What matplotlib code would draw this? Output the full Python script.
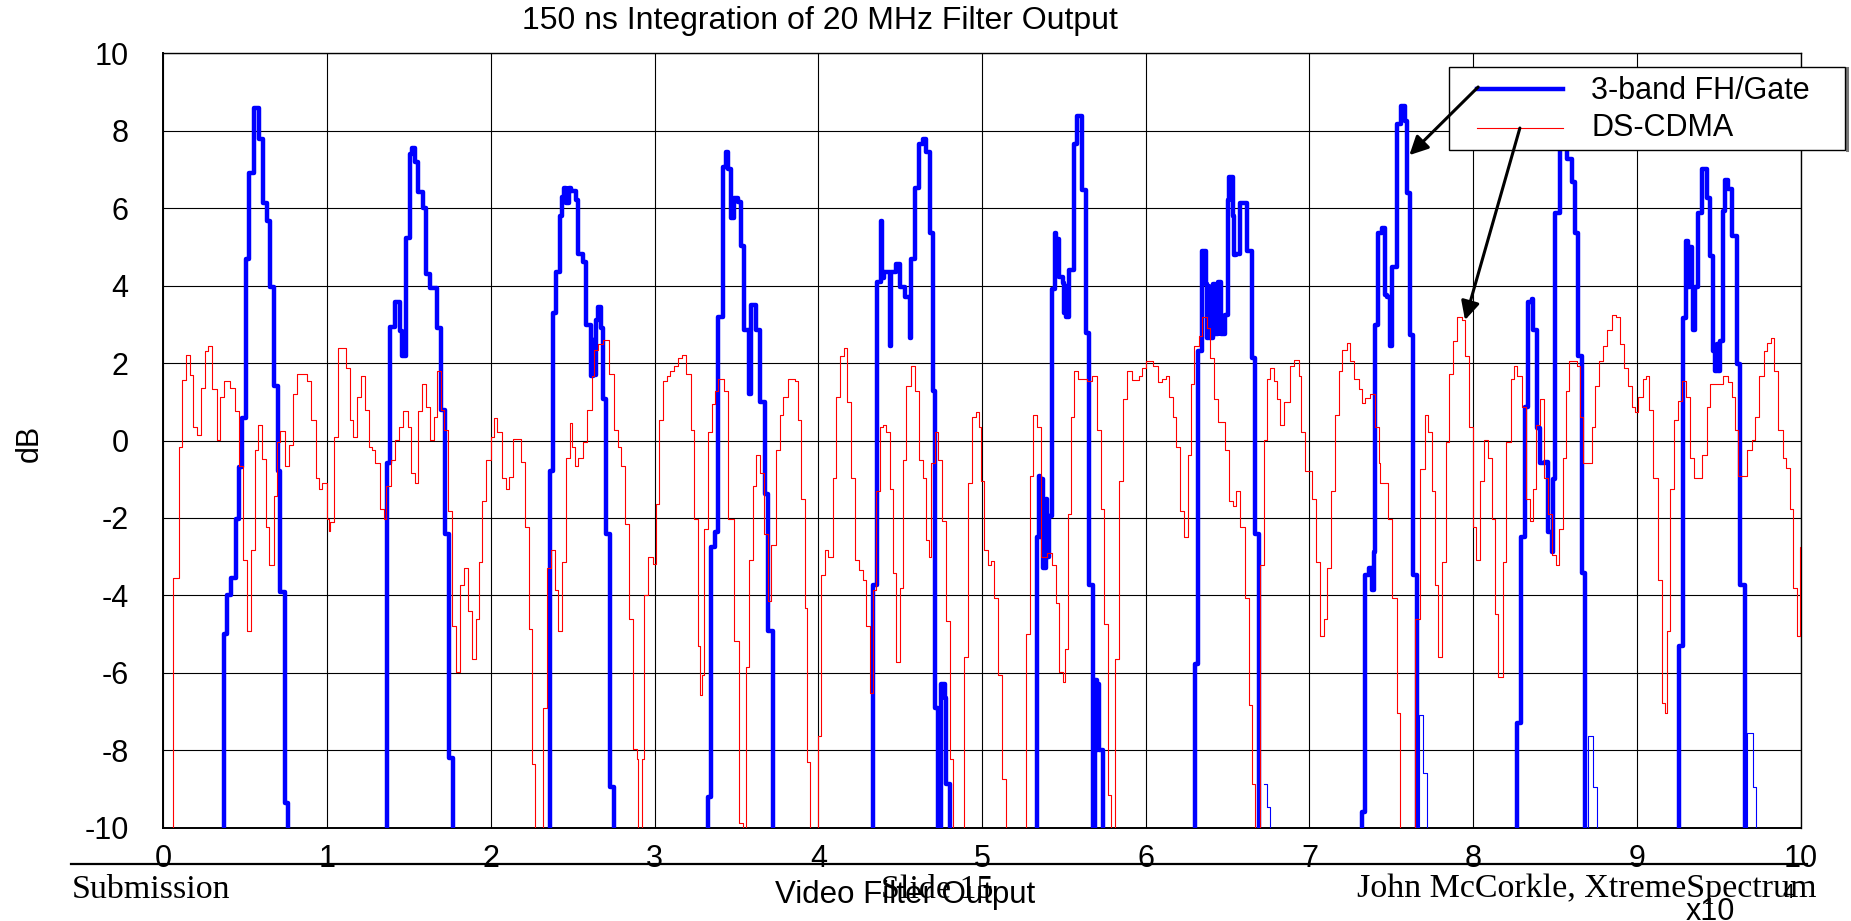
import matplotlib
matplotlib.use("Agg")
import matplotlib.pyplot as plt
from matplotlib.patches import Rectangle
from matplotlib.lines import Line2D

plt.rcParams['axes.unicode_minus'] = False

LOW = -30.0  # below the visible range (clipped at -10)

# ---- 3-band FH/Gate (thick blue) : step breakpoints (x in units of 1e4 samples, dB) ----
fh_x = [0.000,
        0.370, 0.391, 0.413, 0.442, 0.462, 0.483, 0.506, 0.526, 0.551, 0.582, 0.608, 0.633, 0.650, 0.674, 0.699, 0.715, 0.742, 0.763,
        1.367, 1.387, 1.414, 1.445, 1.459, 1.480, 1.507, 1.520, 1.537, 1.558, 1.583, 1.603, 1.628, 1.671, 1.698, 1.718, 1.743, 1.770,
        2.364, 2.380, 2.401, 2.421, 2.438, 2.449, 2.462, 2.475, 2.489, 2.520, 2.530, 2.561, 2.581, 2.612, 2.622, 2.630, 2.642, 2.656, 2.673, 2.683, 2.703, 2.730, 2.754,
        3.325, 3.346, 3.370, 3.390, 3.417, 3.437, 3.451, 3.468, 3.488, 3.510, 3.529, 3.549, 3.574, 3.590, 3.620, 3.647, 3.672, 3.696, 3.723,
        4.337, 4.358, 4.382, 4.392, 4.400, 4.436, 4.446, 4.477, 4.497, 4.528, 4.558, 4.568, 4.589, 4.614, 4.640, 4.660, 4.681, 4.702, 4.712, 4.733, 4.752, 4.773, 4.783, 4.803,
        5.333, 5.347, 5.357, 5.365, 5.374, 5.390, 5.400, 5.409, 5.425, 5.445, 5.452, 5.458, 5.470, 5.497, 5.503, 5.508, 5.511, 5.531, 5.564, 5.578, 5.609, 5.633, 5.656, 5.680, 5.690, 5.700, 5.705, 5.715, 5.741,
        6.301, 6.322, 6.343, 6.367, 6.375, 6.382, 6.388, 6.408, 6.424, 6.440, 6.461, 6.485, 6.500, 6.506, 6.531, 6.540, 6.551, 6.578, 6.618, 6.649, 6.669, 6.694,
        7.320, 7.337, 7.362, 7.382, 7.393, 7.398, 7.417, 7.440, 7.460, 7.475, 7.491, 7.501, 7.532, 7.556, 7.582, 7.593, 7.613, 7.633, 7.654,
        8.265, 8.289, 8.316, 8.336, 8.356, 8.367, 8.387, 8.407, 8.438, 8.458, 8.479, 8.485, 8.499, 8.530, 8.545, 8.570, 8.601, 8.621, 8.642, 8.662, 8.682,
        9.259, 9.279, 9.299, 9.310, 9.324, 9.334, 9.344, 9.354, 9.375, 9.395, 9.426, 9.446, 9.466, 9.476, 9.487, 9.497, 9.507, 9.527, 9.540, 9.558, 9.578, 9.609, 9.629, 9.660,
        10.0]
fh_y = [LOW,
        -5.0, -4.0, -3.54, -2.03, -0.68, 0.57, 4.69, 6.9, 8.6, 7.79, 6.14, 5.68, 3.97, 1.4, -0.78, -3.9, -9.37, LOW,
        -0.58, 2.94, 3.57, 2.82, 2.19, 5.22, 7.4, 7.56, 7.19, 6.43, 6.0, 4.3, 3.94, 2.9, 0.8, -2.42, -8.2, LOW,
        -0.78, 3.28, 4.36, 5.81, 6.3, 6.53, 6.14, 6.53, 6.45, 6.2, 4.82, 4.62, 2.98, 1.66, 2.6, 1.7, 3.11, 3.44, 2.91, 1.07, -2.42, -8.94, LOW,
        -9.2, -2.75, -2.36, 3.18, 7.06, 7.46, 7.0, 5.74, 6.27, 6.17, 5.02, 2.85, 1.2, 3.5, 2.85, 1.0, -1.37, -4.93, LOW,
        -3.74, 4.1, 5.68, 4.2, 4.36, 2.45, 4.36, 4.56, 3.97, 3.7, 2.65, 4.69, 6.53, 7.65, 7.79, 7.46, 5.35, 1.27, -6.9, LOW, -6.3, -6.64, -8.88, LOW,
        -2.49, -0.91, -2.5, -1.0, -3.3, -1.5, -3.0, -1.96, 3.9, 5.35, 4.3, 5.2, 4.23, 4.06, 3.3, 4.0, 3.18, 4.4, 7.65, 8.38, 6.47, 2.78, -3.74, LOW, -6.18, -8.0, -6.3, -8.0, LOW,
        -5.78, 2.32, 4.89, 4.03, 2.65, 4.0, 2.65, 4.03, 2.75, 4.1, 2.75, 3.24, 6.2, 6.8, 5.81, 4.8, 4.82, 6.14, 4.89, 2.12, -2.42, LOW,
        -9.6, -3.48, -3.28, -3.87, -2.88, 2.98, 5.35, 5.48, 3.77, 3.7, 2.45, 4.49, 8.18, 8.64, 8.25, 6.4, 2.73, -3.48, LOW,
        -7.3, -2.49, 0.87, 3.57, 3.65, 2.85, 0.33, -0.58, -0.55, -2.36, -2.88, -1.0, 5.87, 7.72, 8.3, 7.26, 6.67, 5.35, 2.19, -3.41, LOW,
        -5.32, 3.16, 5.15, 3.97, 5.0, 3.97, 2.85, 3.97, 5.87, 7.0, 6.27, 4.76, 2.32, 1.79, 2.5, 1.79, 2.58, 5.94, 6.73, 6.5, 5.28, 1.98, -3.74, LOW,
        LOW]

# ---- faint blue tails near the floor ----
tail_x = [6.720, 6.741, 6.761, 7.670, 7.695, 7.715, 8.703, 8.733, 8.754, 9.670, 9.711, 9.727]
tail_y = [-8.88, -9.47, LOW, -7.1, -8.6, LOW, -7.63, -8.95, LOW, -7.56, -8.95, LOW]

# ---- DS-CDMA (thin red) ----
ds_x = [0.000, 0.058, 0.095, 0.113, 0.136, 0.164, 0.181, 0.206, 0.232, 0.257, 0.273, 0.300, 0.325, 0.345, 0.372, 0.407, 0.438,
        0.465, 0.485, 0.510, 0.534, 0.561, 0.578, 0.602, 0.629, 0.647, 0.674, 0.695, 0.711, 0.742, 0.767, 0.793, 0.814, 0.880,
        0.904, 0.931, 0.952, 0.972, 0.997, 1.010, 1.020, 1.044, 1.069, 1.116, 1.141, 1.161, 1.182, 1.205, 1.229, 1.254, 1.274,
        1.295, 1.322, 1.346, 1.363, 1.390, 1.414, 1.439, 1.466, 1.492, 1.513, 1.538, 1.558, 1.579, 1.603, 1.630, 1.651, 1.671,
        1.694, 1.714, 1.739, 1.764, 1.788, 1.809, 1.836, 1.860, 1.883, 1.907, 1.928, 1.949, 1.973, 2.000, 2.021, 2.041, 2.068,
        2.092, 2.113, 2.134, 2.185, 2.206, 2.232, 2.253, 2.273, 2.319, 2.345, 2.370, 2.391, 2.411, 2.438, 2.462, 2.483,
        2.499, 2.514, 2.534, 2.561, 2.587, 2.616, 2.632, 2.656, 2.683, 2.724, 2.750, 2.775, 2.795, 2.819, 2.846, 2.866, 2.893,
        2.901, 2.921, 2.938, 2.962, 2.989, 3.009, 3.029, 3.050, 3.076, 3.097, 3.117, 3.142, 3.166, 3.193, 3.223, 3.244, 3.264,
        3.280, 3.288, 3.305, 3.325, 3.350, 3.370, 3.390, 3.423, 3.448, 3.488, 3.513, 3.539, 3.556, 3.580, 3.600, 3.621, 3.647,
        3.668, 3.692, 3.713, 3.743, 3.764, 3.784, 3.815, 3.855, 3.876, 3.896, 3.917, 3.931, 3.947, 3.998, 4.018, 4.039, 4.059,
        4.090, 4.110, 4.131, 4.157, 4.177, 4.202, 4.222, 4.247, 4.273, 4.294, 4.314, 4.334, 4.355, 4.375, 4.396, 4.416, 4.436,
        4.457, 4.477, 4.498, 4.518, 4.538, 4.569, 4.593, 4.614, 4.640, 4.661, 4.675, 4.691, 4.712, 4.732, 4.757, 4.783, 4.803,
        4.824, 4.891, 4.912, 4.936, 4.961, 4.981, 4.993, 5.014, 5.034, 5.054, 5.075, 5.099, 5.124, 5.144, 5.266, 5.293, 5.313,
        5.334, 5.360, 5.395, 5.426, 5.450, 5.470, 5.497, 5.507, 5.523, 5.544, 5.564, 5.589, 5.640, 5.674, 5.701, 5.727, 5.748,
        5.772, 5.788, 5.813, 5.837, 5.864, 5.888, 5.915, 5.956, 5.980, 6.001, 6.047, 6.074, 6.098, 6.123, 6.143, 6.164, 6.184,
        6.211, 6.231, 6.257, 6.278, 6.296, 6.323, 6.343, 6.374, 6.394, 6.414, 6.441, 6.486, 6.506, 6.531, 6.551, 6.578, 6.604,
        6.629, 6.649, 6.669, 6.700, 6.720, 6.741, 6.761, 6.781, 6.802, 6.822, 6.843, 6.883, 6.904, 6.934, 6.951, 6.971, 7.016,
        7.040, 7.067, 7.087, 7.108, 7.134, 7.155, 7.179, 7.199, 7.230, 7.250, 7.271, 7.301, 7.322, 7.342, 7.367, 7.403, 7.424,
        7.430, 7.481, 7.502, 7.532, 7.552, 7.644, 7.675, 7.705, 7.726, 7.746, 7.766, 7.787, 7.807, 7.834, 7.854, 7.878, 7.899,
        7.929, 7.950, 7.976, 8.001, 8.017, 8.041, 8.066, 8.092, 8.113, 8.133, 8.153, 8.180, 8.200, 8.229, 8.249, 8.269, 8.296,
        8.322, 8.347, 8.363, 8.384, 8.408, 8.432, 8.459, 8.479, 8.506, 8.526, 8.546, 8.567, 8.587, 8.632, 8.652, 8.673, 8.724,
        8.744, 8.771, 8.795, 8.819, 8.846, 8.872, 8.897, 8.921, 8.948, 8.968, 8.989, 9.009, 9.035, 9.056, 9.076, 9.100, 9.127,
        9.151, 9.172, 9.186, 9.202, 9.227, 9.253, 9.274, 9.300, 9.325, 9.349, 9.396, 9.426, 9.447, 9.528, 9.559, 9.579, 9.600,
        9.620, 9.671, 9.701, 9.722, 9.748, 9.773, 9.797, 9.818, 9.838, 9.864, 9.891, 9.911, 9.936, 9.956, 9.976, 9.997, 10.0]
ds_y = [LOW, -3.54, -0.18, 1.55, 2.21, 1.69, 0.34, 0.15, 1.36, 2.32, 2.45, 1.33, 0.01, 1.13, 1.53, 1.36, 0.76,
        -0.65, -3.08, -4.93, -2.82, -0.25, 0.41, -0.47, -2.23, -3.21, -1.44, -0.05, 0.24, -0.65, -0.12, 1.2, 1.73, 1.53,
        0.54, -0.97, -1.24, -1.1, -2.03, -2.35, -2.1, 0.08, 2.38, 1.86, 0.54, 0.08, 1.13, 1.66, 0.8, -0.18, -0.25,
        -0.58, -1.77, -2.03, -1.17, -0.51, 0.01, 0.34, 0.76, 0.34, -0.84, -1.1, 0.76, 1.46, 0.87, 0.01, 0.61, 1.79,
        0.8, 0.28, -1.83, -4.8, -5.98, -3.74, -3.28, -4.4, -5.65, -4.6, -3.15, -1.57, -0.51, 0.08, 0.58, 0.21, -0.97,
        -1.26, -0.95, 0.05, -0.55, -2.23, -4.86, -8.35, LOW, -6.9, -3.28, -2.82, -3.87, -4.93, -3.15, -0.45, 0.45,
        -0.18, -0.65, -0.45, -0.05, 0.8, 1.66, 2.35, 2.5, 2.6, 1.73, 0.28, -0.18, -0.65, -2.16, -4.6, -7.96, -8.22,
        LOW, -8.22, -4.0, -3.02, -3.2, -1.63, 0.54, 1.53, 1.66, 1.79, 1.92, 2.12, 2.21, 1.73, 0.28, -2.03, -5.32,
        -6.57, -6.05, -2.29, 0.21, 0.94, 1.27, 1.59, 1.27, -2.03, -5.19, -9.87, LOW, -5.85, -3.08, -1.17, -0.38, -0.84,
        -2.42, -4.14, -2.69, -0.25, 0.67, 1.13, 1.59, 1.53, 0.54, -1.5, -4.33, -8.3, LOW, -7.63, -3.48, -2.82, -3.0,
        -0.97, 1.13, 2.19, 2.38, 1.0, -0.97, -3.08, -3.34, -3.61, -4.8, -6.51, -3.87, -1.31, 0.34, 0.41, 0.21, -1.24,
        -3.41, -5.72, -3.81, -0.51, 1.4, 1.92, 1.27, -0.51, -0.97, -2.56, -3.02, -0.58, 0.21, -0.51, -2.09, -4.67, -8.22,
        LOW, -5.59, -1.1, 0.61, 0.74, 0.34, -1.04, -2.82, -3.21, -3.1, -4.07, -6.05, -8.75, LOW, -4.99, -0.91, 0.67,
        0.34, -3.02, -2.9, -3.21, -4.2, -5.98, -6.24, -5.39, -1.9, 0.61, 1.79, 1.59, 1.53, 1.66, 0.28, -1.77, -4.73,
        -9.15, LOW, -5.65, -1.04, 1.07, 1.79, 1.55, 1.66, 1.86, 2.06, 1.92, 1.5, 1.6, 1.66, 1.13, 0.61, -0.18,
        -1.83, -2.49, -0.38, 1.46, 2.45, 2.71, 3.18, 2.91, 2.12, 1.07, 0.47, -0.25, -1.57, -1.7, -1.31, -2.23, -4.07,
        -6.84, -8.88, LOW, -3.21, 0.01, 1.59, 1.86, 1.53, 1.07, 0.41, 1.0, 1.92, 2.08, 1.66, 0.21, -0.78, -1.5,
        -3.15, -5.06, -4.6, -3.28, -1.31, 0.67, 1.79, 2.34, 2.52, 2.06, 1.59, 1.33, 0.97, 1.1, 1.2, 0.34, -0.58,
        -1.1, -2.03, -4.07, -7.03, LOW, -4.6, -0.73, 0.67, 0.21, -1.31, -3.74, -5.59, -3.15, -0.05, 1.73, 2.58, 3.18,
        3.1, 2.19, 0.34, -2.23, -3.08, -1.04, 0.01, -0.45, -2.03, -4.47, -6.11, -3.15, -0.05, 1.59, 1.92, 1.66, 0.87,
        -1.5, -2.09, -1.24, 0.41, 1.07, -0.97, -1.9, -2.95, -3.21, -2.29, -0.45, 1.27, 2.06, 1.92, 0.61, -0.58, 0.34,
        1.4, 2.06, 2.45, 2.85, 3.24, 3.18, 2.48, 1.86, 1.4, 0.87, 0.74, 1.13, 1.59, 1.66, 0.8, -0.97, -3.61,
        -6.77, -7.03, -4.93, -1.24, 0.54, 1.03, 1.53, 1.13, -0.45, -0.97, -0.38, 0.87, 1.46, 1.66, 1.5, 1.13, 0.28,
        -0.91, -0.25, 0.01, 0.61, 1.66, 2.32, 2.52, 2.65, 1.79, 0.28, -0.45, -0.71, -1.77, -3.81, -5.06, -2.75, -2.75]

x_ticks = list(range(0, 11))
y_ticks = list(range(-10, 11, 2))
y_tick_labels = [str(v) for v in y_ticks]
series_labels = ["3-band FH/Gate", "DS-CDMA"]

W, H = 1851, 921
def fx(px):
    return px / W
def fy(py):
    return 1 - py / H

SANS = "Liberation Sans"
SERIF = "Liberation Serif"

fig = plt.figure(figsize=(W / 100, H / 100), dpi=100)
ax = fig.add_axes([fx(163.3), fy(827.7), fx(1800.7) - fx(163.3), fy(53.3) - fy(827.7)])

ax.step(fh_x, fh_y, where='post', color='#0000ff', lw=3.2, zorder=3)
ax.step(tail_x, tail_y, where='post', color='#0000ff', lw=0.8, zorder=3)
ax.step(ds_x, ds_y, where='post', color='#ff0000', lw=0.8, zorder=4)

ax.set_xlim(0, 10)
ax.set_ylim(-10, 10)
ax.set_xticks(x_ticks)
ax.set_xticklabels([str(v) for v in x_ticks], fontsize=22, family=SANS)
ax.set_yticks(y_ticks)
ax.set_yticklabels(y_tick_labels, fontsize=22, family=SANS)
ax.tick_params(axis='both', length=0)
ax.tick_params(axis='x', pad=12)
ax.tick_params(axis='y', pad=25)
ax.grid(True, color='black', lw=0.8)
ax.set_axisbelow(True)
for s in ['left', 'bottom']:
    ax.spines[s].set_linewidth(1.4)
for s in ['top', 'right']:
    ax.spines[s].set_linewidth(1.0)

# title / axis labels
fig.text(fx(820), fy(21), "150 ns Integration of 20 MHz Filter Output", fontsize=23, family=SANS,
         ha='center', va='center')
fig.text(fx(30), fy(443), "dB", fontsize=22, family=SANS, rotation=90, ha='center', va='center')
fig.text(fx(905), fy(903), "Video Filter Output", fontsize=22.5, family=SANS, ha='center', va='baseline')
fig.text(fx(1686), fy(920), "x10", fontsize=22, family=SANS, ha='left', va='baseline')
fig.text(fx(1782), fy(898), "4", fontsize=15, family=SANS, ha='left', va='baseline')

# slide footer
fig.add_artist(Line2D([fx(71), fx(1807)], [fy(864), fy(864)], color='black', lw=1.6))
fig.text(fx(71.7), fy(898), "Submission", fontsize=24.5, family=SERIF, ha='left', va='baseline')
fig.text(fx(937.5), fy(898), "Slide 15", fontsize=24.5, family=SERIF, ha='center', va='baseline')
fig.text(fx(1816.7), fy(897), "John McCorkle, XtremeSpectrum", fontsize=24.5, family=SERIF,
         ha='right', va='baseline')

# legend (drawn manually to match the boxed MATLAB legend)
tf = fig.transFigure
ax.add_artist(Line2D([fx(1847), fx(1847)], [fy(150), fy(68)], transform=tf, color='#777777', lw=2.2,
                     clip_on=False, zorder=5))
ax.add_artist(Rectangle((fx(1449), fy(150)), fx(1845) - fx(1449), fy(66.7) - fy(150), transform=tf,
                        facecolor='white', edgecolor='black', lw=1.0, clip_on=False, zorder=5))
ax.add_artist(Line2D([fx(1477), fx(1563)], [fy(89), fy(89)], transform=tf, color='#0000ff', lw=3.2,
                     clip_on=False, zorder=5.1))
ax.add_artist(Line2D([fx(1477), fx(1563)], [fy(128), fy(128)], transform=tf, color='#ff0000', lw=0.8,
                     clip_on=False, zorder=5.1))
ax.text(fx(1591), fy(91), series_labels[0], transform=tf, fontsize=22, family=SANS, ha='left', va='center',
        zorder=5.2)
ax.text(fx(1591), fy(128), series_labels[1], transform=tf, fontsize=22, family=SANS, ha='left', va='center',
        zorder=5.2)

# arrows from legend entries to curves
arrow_kw = dict(arrowstyle='-|>', color='black', lw=2.2, mutation_scale=28, shrinkA=0, shrinkB=0)
ax.annotate("", xy=(7.61, 7.37), xytext=(8.03, 9.13), arrowprops=arrow_kw, zorder=6, annotation_clip=False)
ax.annotate("", xy=(7.95, 3.11), xytext=(8.285, 8.07), arrowprops=arrow_kw, zorder=6, annotation_clip=False)

fig.savefig("out.png", dpi=100)
